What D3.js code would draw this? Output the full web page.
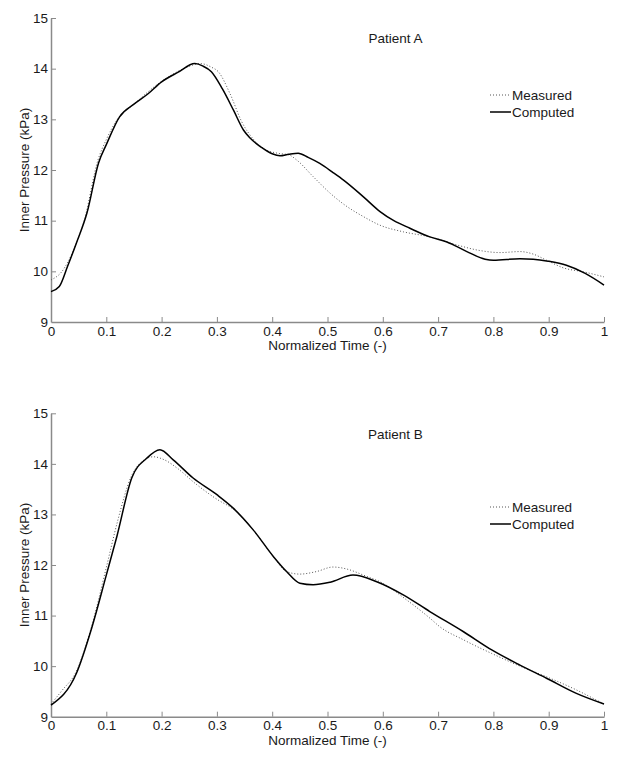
<!DOCTYPE html>
<html><head><meta charset="utf-8">
<script src="https://cdn.jsdelivr.net/npm/d3@7"></script>
<style>
body{margin:0;background:#fff;}
text{font-family:"Liberation Sans",Arial,sans-serif;fill:#1a1a1a;}
</style></head>
<body><svg id="c" width="624" height="763"></svg>
<script>
// Patient A
const timeA_comp = [0,0.015,0.03,0.046,0.065,0.086,0.1,0.124,0.15,0.175,0.2,0.23,0.26,0.275,0.29,0.31,0.33,0.348,0.36,0.38,0.4,0.414,0.43,0.447,0.465,0.486,0.51,0.529,0.565,0.595,0.62,0.649,0.685,0.716,0.752,0.785,0.8,0.848,0.872,0.899,0.932,0.966,1];
const pressA_comp = [9.6,9.7,10.1,10.56,11.15,12.14,12.5,13.05,13.3,13.5,13.74,13.93,14.1,14.05,13.94,13.6,13.18,12.79,12.63,12.45,12.32,12.28,12.31,12.33,12.25,12.13,11.95,11.8,11.47,11.18,11.0,10.85,10.68,10.58,10.39,10.24,10.22,10.25,10.24,10.2,10.12,9.96,9.73];
const timeA_meas = [0,0.02,0.04,0.06,0.085,0.1,0.12,0.15,0.2,0.24,0.27,0.29,0.3025,0.324,0.345,0.365,0.385,0.41,0.43,0.444,0.474,0.505,0.535,0.565,0.595,0.637,0.685,0.734,0.776,0.812,0.848,0.872,0.896,0.926,0.963,1];
const pressA_meas = [9.83,10.0,10.4,11.0,12.2,12.6,13.0,13.3,13.75,14.0,14.1,14.03,13.94,13.5,12.95,12.62,12.42,12.33,12.3,12.2,11.87,11.54,11.28,11.08,10.91,10.78,10.68,10.52,10.41,10.37,10.39,10.34,10.22,10.07,9.99,9.89];
// Patient B
const timeB_comp = [0,0.046,0.0735,0.1,0.119,0.146,0.173,0.197,0.221,0.257,0.3,0.33,0.366,0.402,0.426,0.45,0.474,0.505,0.546,0.589,0.637,0.685,0.746,0.797,0.848,0.896,0.95,1];
const pressB_comp = [9.23,9.86,10.75,11.8,12.56,13.72,14.11,14.28,14.08,13.72,13.39,13.12,12.69,12.17,11.87,11.64,11.61,11.66,11.8,11.67,11.41,11.08,10.68,10.32,10.02,9.76,9.46,9.25];
const timeB_meas = [0,0.02,0.045,0.075,0.1,0.12,0.145,0.165,0.185,0.205,0.23,0.26,0.3,0.33,0.366,0.402,0.426,0.45,0.48,0.51,0.535,0.565,0.6,0.643,0.685,0.703,0.746,0.797,0.848,0.896,0.95,1];
const pressB_meas = [9.25,9.52,9.88,10.85,11.95,12.85,13.75,14.05,14.14,14.08,13.9,13.62,13.3,13.1,12.69,12.17,11.87,11.82,11.87,11.96,11.92,11.8,11.64,11.31,10.95,10.78,10.52,10.25,10.0,9.79,9.53,9.25];

const xTicks = [0,0.1,0.2,0.3,0.4,0.5,0.6,0.7,0.8,0.9,1];
const yTicks = [9,10,11,12,13,14,15];
const legendLabels = ["Measured","Computed"];
const titles = ["Patient A","Patient B"];
const xLabel = "Normalized Time (-)";
const yLabel = "Inner Pressure (kPa)";

const svg = d3.select("#c");
const axisColor = "#8a8a8a";

function panel(top, bottom, title, tMeas, pMeas, tComp, pComp, titleY, legY){
  const x = d3.scaleLinear().domain([0,1]).range([51,604]);
  const y = d3.scaleLinear().domain([9,15]).range([bottom, top]);
  const g = svg.append("g");
  const xa = g.append("g").attr("transform",`translate(0,${bottom})`)
    .call(d3.axisBottom(x).tickValues(xTicks).tickSize(0).tickPadding(4).tickFormat(d=>String(d)));
  xa.select(".domain").attr("stroke",axisColor).attr("stroke-width",1.5);
  xa.selectAll("text").style("font-size","13.5px").attr("fill","#1a1a1a");
  xa.selectAll(".tick").filter(d=>d>0).append("line").attr("y1",0).attr("y2",-5).attr("stroke",axisColor);
  const ya = g.append("g").attr("transform","translate(51,0)")
    .call(d3.axisLeft(y).tickValues(yTicks).tickSize(0).tickPadding(3).tickFormat(d=>String(d)));
  ya.select(".domain").attr("stroke",axisColor).attr("stroke-width",1.5);
  ya.selectAll("text").style("font-size","13.5px").attr("fill","#1a1a1a");
  ya.selectAll(".tick").filter(d=>d>9).append("line").attr("x1",0).attr("x2",5).attr("stroke",axisColor);
  g.append("text").attr("x",327.5).attr("y",bottom+28).attr("text-anchor","middle")
    .style("font-size","13.5px").text(xLabel);
  g.append("text").attr("transform",`translate(29,${(top+bottom)/2}) rotate(-90)`).attr("text-anchor","middle")
    .style("font-size","13.5px").text(yLabel);
  g.append("text").attr("x",395.5).attr("y",titleY).attr("text-anchor","middle")
    .style("font-size","13.5px").text(title);
  const line = d3.line().x(d=>x(d[0])).y(d=>y(d[1])).curve(d3.curveMonotoneX);
  g.append("path").datum(d3.zip(tMeas,pMeas)).attr("d",line).attr("fill","none")
    .attr("stroke","#555").attr("stroke-width",1).attr("stroke-dasharray","1,2");
  g.append("path").datum(d3.zip(tComp,pComp)).attr("d",line).attr("fill","none")
    .attr("stroke","#000").attr("stroke-width",1.5);
  const lx0 = 490, lx1 = 511;
  g.append("line").attr("x1",lx0).attr("x2",lx1).attr("y1",legY).attr("y2",legY)
    .attr("stroke","#555").attr("stroke-width",1).attr("stroke-dasharray","1,2");
  g.append("line").attr("x1",lx0).attr("x2",lx1).attr("y1",legY+17).attr("y2",legY+17)
    .attr("stroke","#000").attr("stroke-width",1.5);
  g.append("text").attr("x",lx1+1).attr("y",legY).attr("dy","0.35em").style("font-size","13.5px").text(legendLabels[0]);
  g.append("text").attr("x",lx1+1).attr("y",legY+17).attr("dy","0.35em").style("font-size","13.5px").text(legendLabels[1]);
}
panel(18, 322, titles[0], timeA_meas, pressA_meas, timeA_comp, pressA_comp, 43, 95);
panel(413.3, 716.7, titles[1], timeB_meas, pressB_meas, timeB_comp, pressB_comp, 439, 507);
</script></body></html>
